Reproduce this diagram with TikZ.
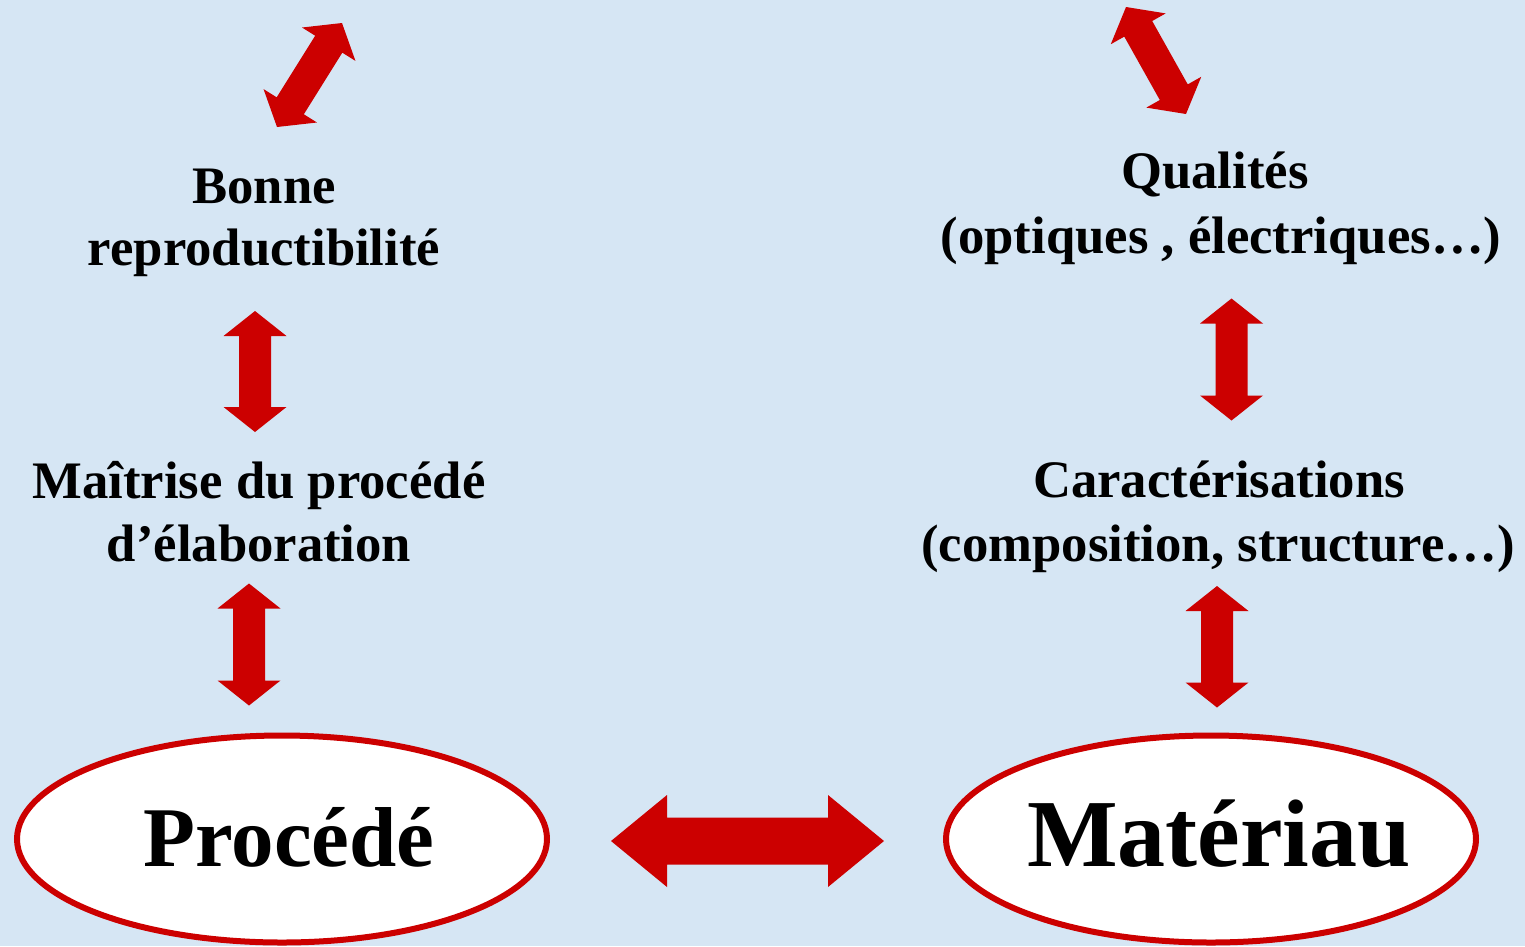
\documentclass[tikz,border=0pt]{standalone}
\usepackage{fontspec}
\setmainfont{Liberation Serif}
\usetikzlibrary{calc}
\definecolor{bgblue}{RGB}{214,230,244}
\definecolor{arrred}{RGB}{204,0,0}
\tikzset{
  lbl/.style={font=\bfseries\fontsize{52.7}{63}\selectfont, align=center, inner sep=0pt, anchor=base},
  bigword/.style={inner sep=0pt, anchor=base},
  oval/.style={draw=arrred, line width=6pt, fill=white, ellipse, minimum width=530pt, minimum height=207pt, inner sep=0pt},
}
\usetikzlibrary{shapes.geometric}
% double block arrow between two named coordinates
% #1 from, #2 to, #3 shaft half width, #4 head half width, #5 head length
\newcommand\dblblock[5]{%
  \fill[arrred] let \p1=(#1), \p2=(#2),
    \n1={atan2(\y2-\y1,\x2-\x1)}, \n2={veclen(\x2-\x1,\y2-\y1)} in
    [shift={(\p1)}, rotate=\n1]
    (0,0) -- (#5,#4) -- (#5,#3) -- ({\n2-#5},#3) -- ({\n2-#5},#4) -- ({\n2},0)
    -- ({\n2-#5},-#4) -- ({\n2-#5},-#3) -- (#5,-#3) -- (#5,-#4) -- cycle;}
\begin{document}
\begin{tikzpicture}[x=1pt,y=-1pt]
  \fill[bgblue] (0,0) rectangle (1525,946);
  \useasboundingbox (0,0) rectangle (1525,946);

  % text nodes
  \node[lbl] (bonne) at (264,203) {Bonne};
  \node[lbl] (repro) at (264,265) {reproductibilité};
  \node[lbl] (maitr) at (259,498) {Maîtrise du procédé};
  \node[lbl] (elab) at (259,561) {d’élaboration};
  \node[lbl] (qual) at (1215,188) {Qualités};
  \node[lbl] (optq) at (1221,253) {(optiques , électriques…)};
  \node[lbl] (carac) at (1219,497) {Caractérisations};
  \node[lbl] (compo) at (1218,561) {(composition, structure…)};

  % ellipses
  \node[oval] (proc) at (282,839) {};
  \node[oval] (mat) at (1211,839) {};
  \node[bigword, font=\bfseries\fontsize{85}{90}\selectfont] (proct) at (289,866) {Procédé};
  \node[bigword, font=\bfseries\fontsize{96}{100}\selectfont] (matt) at (1219,866) {Matériau};

  % arrow end points
  \coordinate (d1a) at (277,127);   \coordinate (d1b) at (342,23);
  \coordinate (d2a) at (1186,114);  \coordinate (d2b) at (1126,7);
  \coordinate (v1a) at (255,432);   \coordinate (v1b) at (255,311);
  \coordinate (v2a) at (249,705.5); \coordinate (v2b) at (249,583.5);
  \coordinate (v3a) at (1231.5,420.5); \coordinate (v3b) at (1231.5,298.5);
  \coordinate (v4a) at (1217,707.5); \coordinate (v4b) at (1217,586);
  \coordinate (ha) at (611,841);    \coordinate (hb) at (884,841);

  \dblblock{d1a}{d1b}{16}{31.5}{25}
  \dblblock{d2a}{d2b}{16}{31.5}{25}
  \dblblock{v1a}{v1b}{16}{31.5}{25}
  \dblblock{v2a}{v2b}{16}{31.5}{25}
  \dblblock{v3a}{v3b}{16}{31.5}{25}
  \dblblock{v4a}{v4b}{16}{31.5}{25}
  \dblblock{ha}{hb}{23.5}{46}{56}
\end{tikzpicture}
\end{document}
